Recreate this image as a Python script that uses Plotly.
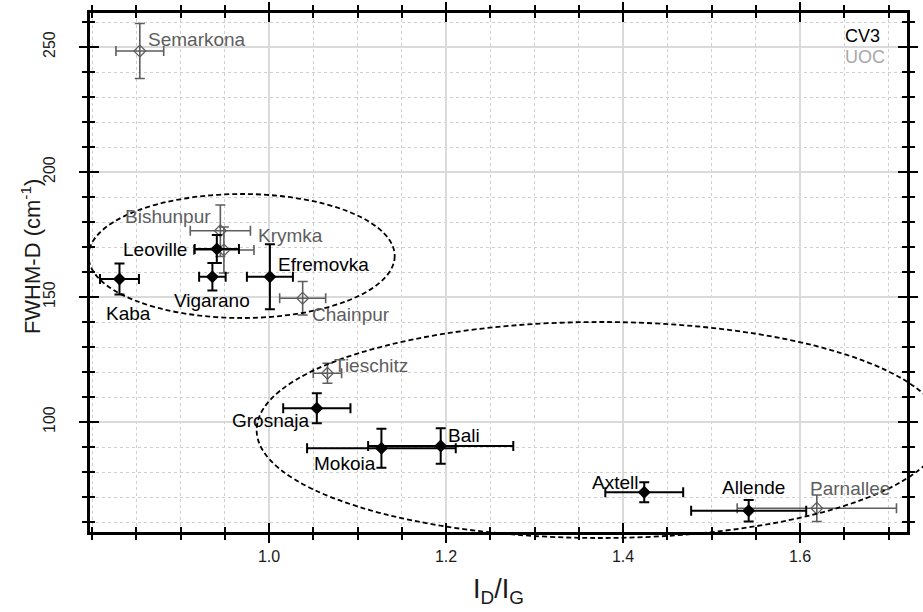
import plotly.graph_objects as go

# ---------------- data ----------------
cv3_names = ["Kaba", "Leoville", "Vigarano", "Efremovka", "Grosnaja", "Mokoia", "Bali", "Axtell", "Allende"]
cv3_x = [0.831, 0.941, 0.936, 1.001, 1.054, 1.127, 1.194, 1.424, 1.542]
cv3_y = [157.2, 169.2, 158.1, 158.1, 105.5, 89.5, 90.4, 71.9, 64.5]
cv3_xerr = [0.022, 0.025, 0.015, 0.026, 0.038, 0.084, 0.082, 0.044, 0.065]
cv3_yerr = [6.2, 5.6, 5.5, 13.0, 6.0, 7.8, 7.1, 4.0, 4.3]

uoc_names = ["Semarkona", "Bishunpur", "Krymka", "Chainpur", "Tieschitz", "Parnallee"]
uoc_x = [0.854, 0.945, 0.949, 1.038, 1.066, 1.619]
uoc_y = [248.4, 176.5, 168.8, 149.5, 119.5, 65.5]
uoc_xerr = [0.027, 0.034, 0.034, 0.026, 0.016, 0.090]
uoc_yerr = [11.0, 10.3, 9.2, 6.7, 4.0, 5.3]

x_ticks = [1.0, 1.2, 1.4, 1.6]
y_ticks = [100, 150, 200, 250]

# label offsets in pixels (dx right, dy down) from each point
cv3_off = [(9, 34), (-62, 0), (0, 24), (54, -12), (-46, 12), (-36, 15), (23, -11), (-29, -10), (5, -23)]
uoc_off = [(57, -12), (-52, -14), (67, -15), (48, 16), (44, -8), (33, -20)]

# ellipses (data units): center x, center y, semi-axis x, semi-axis y
ellipses = [(0.969, 166.4, 0.173, 24.8), (1.374, 96.8, 0.388, 43.2)]

XR = [0.7977, 1.7209]
YR = [56.0, 263.6]

FONT = "Liberation Sans, Arial, sans-serif"
GRAY = "#5e5e5e"
LBL = 19

fig = go.Figure()

fig.add_trace(go.Scatter(
    x=uoc_x, y=uoc_y, mode="markers", name="UOC",
    marker=dict(symbol="diamond-open", size=9, color=GRAY, line=dict(width=1.3, color=GRAY)),
    error_x=dict(type="data", array=uoc_xerr, color=GRAY, thickness=1.6, width=5),
    error_y=dict(type="data", array=uoc_yerr, color=GRAY, thickness=1.6, width=5),
    showlegend=False,
))
fig.add_trace(go.Scatter(
    x=cv3_x, y=cv3_y, mode="markers", name="CV3",
    marker=dict(symbol="diamond", size=10, color="black"),
    error_x=dict(type="data", array=cv3_xerr, color="black", thickness=2, width=5),
    error_y=dict(type="data", array=cv3_yerr, color="black", thickness=2, width=5),
    showlegend=False,
))
# empty trace on overlay axes (for inner ticks)
fig.add_trace(go.Scatter(x=[], y=[], xaxis="x2", yaxis="y2", showlegend=False, hoverinfo="skip"))

annotations = []
for n, x, y, (dx, dy) in zip(cv3_names, cv3_x, cv3_y, cv3_off):
    annotations.append(dict(x=x, y=y, xref="x", yref="y", text=n, showarrow=False,
                            xshift=dx, yshift=-dy, font=dict(family=FONT, size=LBL, color="black")))
for n, x, y, (dx, dy) in zip(uoc_names, uoc_x, uoc_y, uoc_off):
    annotations.append(dict(x=x, y=y, xref="x", yref="y", text=n, showarrow=False,
                            xshift=dx, yshift=-dy, font=dict(family=FONT, size=LBL, color=GRAY)))
annotations.append(dict(x=0.922, y=0.956, xref="paper", yref="paper", text="CV3", showarrow=False,
                        xanchor="left", yanchor="middle", font=dict(family=FONT, size=18, color="black")))
annotations.append(dict(x=0.922, y=0.915, xref="paper", yref="paper", text="UOC", showarrow=False,
                        xanchor="left", yanchor="middle", font=dict(family=FONT, size=18, color="#a8a8a8")))
# y-axis title
annotations.append(dict(x=-0.072, y=0.53, xref="paper", yref="paper", text="FWHM-D (cm<sup>-1</sup>)",
                        showarrow=False, textangle=-90, xanchor="center", yanchor="middle",
                        font=dict(family=FONT, size=22, color="#1a1a1a")))


def px(v):
    return (v - XR[0]) / (XR[1] - XR[0])


def py(v):
    return (v - YR[0]) / (YR[1] - YR[0])


shapes = []
for cx, cy, ax, ay in ellipses:
    shapes.append(dict(type="circle", xref="paper", yref="paper",
                       x0=px(cx - ax), x1=px(cx + ax), y0=py(cy - ay), y1=py(cy + ay),
                       line=dict(color="black", width=1.8, dash="5px,3px"), layer="above"))

axis_common = dict(showline=True, linewidth=2.5, linecolor="black", zeroline=False, automargin=False)

fig.update_layout(
    width=923, height=612,
    margin=dict(l=90, r=16, t=13, b=80),
    paper_bgcolor="white", plot_bgcolor="white",
    font=dict(family=FONT, color="#1a1a1a"),
    annotations=annotations,
    shapes=shapes,
    xaxis=dict(
        **axis_common, range=XR, mirror="allticks",
        tickvals=x_ticks, ticktext=[f"{v:.1f}" for v in x_ticks],
        ticks="outside", ticklen=8, tickwidth=2, tickcolor="black",
        tickfont=dict(size=16, family=FONT, color="#1a1a1a"),
        showgrid=True, gridcolor="#dadada", gridwidth=1.5,
        minor=dict(dtick=0.05, tick0=0, ticks="outside", ticklen=5, tickwidth=1.5, tickcolor="black",
                   showgrid=True, gridcolor="#cfcfcf", gridwidth=1, griddash="dot"),
        title=dict(text="I<sub>D</sub>/I<sub>G</sub>", font=dict(size=27, family=FONT, color="#1a1a1a"), standoff=16),
    ),
    yaxis=dict(
        **axis_common, range=YR, mirror="allticks",
        tickvals=y_ticks, ticktext=[str(v) for v in y_ticks], tickangle=-90,
        ticks="outside", ticklen=8, tickwidth=2, tickcolor="black",
        tickfont=dict(size=16, family=FONT, color="#1a1a1a"), ticklabelstandoff=18,
        showgrid=True, gridcolor="#dadada", gridwidth=1.5,
        minor=dict(dtick=10, tick0=0, ticks="outside", ticklen=5, tickwidth=1.5, tickcolor="black",
                   showgrid=True, gridcolor="#cfcfcf", gridwidth=1, griddash="dot"),
    ),
    xaxis2=dict(
        **axis_common, range=XR, overlaying="x", side="bottom", mirror="allticks",
        tickvals=x_ticks, showticklabels=False, showgrid=False,
        ticks="inside", ticklen=9, tickwidth=2, tickcolor="black",
        minor=dict(dtick=0.05, tick0=0, ticks="inside", ticklen=5, tickwidth=1.5, tickcolor="black", showgrid=False),
    ),
    yaxis2=dict(
        **axis_common, range=YR, overlaying="y", side="left", mirror="allticks",
        tickvals=y_ticks, showticklabels=False, showgrid=False,
        ticks="inside", ticklen=9, tickwidth=2, tickcolor="black",
        minor=dict(dtick=10, tick0=0, ticks="inside", ticklen=5, tickwidth=1.5, tickcolor="black", showgrid=False),
    ),
)

fig.write_html("out.html")
